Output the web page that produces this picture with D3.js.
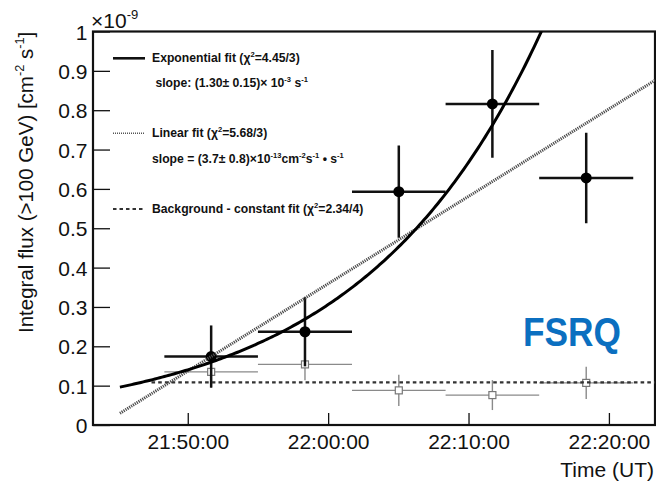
<!DOCTYPE html>
<html>
<head>
<meta charset="utf-8">
<script src="https://cdn.jsdelivr.net/npm/d3@7"></script>
<style>
  body { margin: 0; background: #fff; }
  svg { display: block; }
  text { font-family: "Liberation Sans", Arial, Helvetica, sans-serif; fill: #111; }
</style>
</head>
<body>
<script>
// ---- data: PKS 1222+216 light curve, 17 June 2010 (UT) ----
const obsDate = "2010-06-17T";
const binStart = ["21:48:20", "21:55:00", "22:01:42", "22:08:22", "22:15:02"];
const binEnd   = ["21:55:00", "22:01:42", "22:08:22", "22:15:02", "22:21:44"];
// integral flux above 100 GeV, in units of 1e-9 cm^-2 s^-1
const signalFlux = [0.174, 0.237, 0.593, 0.816, 0.628];
const signalErr  = [0.079, 0.088, 0.117, 0.137, 0.115];
const bgFlux     = [0.135, 0.154, 0.088, 0.076, 0.107];
const bgErr      = [0.041, 0.040, 0.040, 0.038, 0.041];

const xTickLabels = ["21:50:00", "22:00:00", "22:10:00", "22:20:00"];
const yTickLabels = ["0", "0.1", "0.2", "0.3", "0.4", "0.5", "0.6", "0.7", "0.8", "0.9", "1"];

// fit parameters
const fitStart = "21:45:10";
const expNorm = 0.0962, expRate = 1.30e-3;        // F(t) = N exp(rate * dt), rate in s^-1
const linOffset = 0.0297, linSlope = 3.7e-4;      // 1e-9 cm^-2 s^-1 per s
const bgFitStart = "21:47:25", bgLevel = 0.1085;  // constant background

const legendLines = [
  "Exponential fit (χ^{2}=4.45/3)",
  " slope: (1.30± 0.15)× 10^{-3} s^{-1}",
  "Linear fit (χ^{2}=5.68/3)",
  "slope = (3.7± 0.8)×10^{-13}cm^{-2}s^{-1} • s^{-1}",
  "Background - constant fit (χ^{2}=2.34/4)"
];

// ---- layout ----
const W = 656, H = 484;
const plot = { left: 93, right: 655, top: 31.5, bottom: 425 };
const T = s => new Date(obsDate + s + "Z");

const svg = d3.select("body").append("svg").attr("width", W).attr("height", H);

const x = d3.scaleUtc().domain([T("21:43:15"), T("22:23:17")]).range([plot.left, plot.right]);
const y = d3.scaleLinear().domain([0, 1]).range([plot.bottom, plot.top]);

svg.append("defs").append("clipPath").attr("id", "frame")
  .append("rect").attr("x", plot.left).attr("y", plot.top)
  .attr("width", plot.right - plot.left).attr("height", plot.bottom - plot.top);

// rich text with ^{...} superscripts
function rich(sel, str, size) {
  const re = /\^\{([^}]*)\}/g;
  let last = 0, m, up = false;
  const parts = [];
  while ((m = re.exec(str)) !== null) {
    if (m.index > last) parts.push([str.slice(last, m.index), false]);
    parts.push([m[1], true]);
    last = re.lastIndex;
  }
  if (last < str.length) parts.push([str.slice(last), false]);
  parts.forEach(([t, sup]) => {
    const ts = sel.append("tspan").text(t);
    if (sup) {
      ts.attr("font-size", size * 0.62).attr("dy", -size * 0.42);
      up = true;
    } else if (up) {
      ts.attr("dy", size * 0.42);
      up = false;
    }
  });
  sel.attr("xml:space", "preserve").style("white-space", "pre");
}

// ---- axes ----
const gx = svg.append("g").attr("transform", `translate(0,${plot.bottom})`);
gx.call(d3.axisBottom(x).ticks(d3.utcMinute.every(2)).tickSize(-6).tickFormat(""));
gx.call(d3.axisBottom(x).tickValues(xTickLabels.map(T)).tickSize(-12)
  .tickFormat((d, i) => xTickLabels[i]));
gx.selectAll(".domain").remove();
gx.selectAll("line").attr("stroke", "#111").attr("stroke-width", 1.3);
gx.selectAll("text").attr("y", 0).attr("dy", 24).attr("font-size", 21).attr("fill", "#111");

const gy = svg.append("g").attr("transform", `translate(${plot.left},0)`);
gy.call(d3.axisLeft(y).ticks(50).tickSize(-8).tickFormat(""));
gy.call(d3.axisLeft(y).tickValues(d3.range(11).map(i => i / 10)).tickSize(-17)
  .tickFormat((d, i) => yTickLabels[i]));
gy.selectAll(".domain").remove();
gy.selectAll("line").attr("stroke", "#111").attr("stroke-width", 1.3);
gy.selectAll("text").attr("x", -5.5).attr("dy", 7.5).attr("font-size", 21).attr("fill", "#111");

// frame
svg.append("rect").attr("x", plot.left).attr("y", plot.top)
  .attr("width", plot.right - plot.left).attr("height", plot.bottom - plot.top)
  .attr("fill", "none").attr("stroke", "#111").attr("stroke-width", 2.2);

// axis titles
const yt = svg.append("text").attr("transform", "translate(33,333) rotate(-90)")
  .attr("font-size", 20.5);
rich(yt, "Integral flux (>100 GeV) [cm^{-2} s^{-1}]", 20.5);
svg.append("text").attr("x", 654).attr("y", 477).attr("text-anchor", "end")
  .attr("font-size", 21).text("Time (UT)");
const ex = svg.append("text").attr("x", 91).attr("y", 28).attr("font-size", 21);
rich(ex, "×10^{-9}", 21);

// ---- data ----
const idx = d3.range(signalFlux.length);
const mid = i => new Date((T(binStart[i]).getTime() + T(binEnd[i]).getTime()) / 2);

const bgG = svg.append("g").attr("clip-path", "url(#frame)");
bgG.selectAll("line.bh").data(idx).join("line")
  .attr("x1", i => x(T(binStart[i]))).attr("x2", i => x(T(binEnd[i])))
  .attr("y1", i => y(bgFlux[i])).attr("y2", i => y(bgFlux[i]))
  .attr("stroke", "#8a8a8a").attr("stroke-width", 1.4);
bgG.selectAll("line.bv").data(idx).join("line")
  .attr("x1", i => x(mid(i))).attr("x2", i => x(mid(i)))
  .attr("y1", i => y(bgFlux[i] - bgErr[i])).attr("y2", i => y(bgFlux[i] + bgErr[i]))
  .attr("stroke", "#8a8a8a").attr("stroke-width", 1.4);
bgG.selectAll("rect").data(idx).join("rect")
  .attr("x", i => x(mid(i)) - 3.5).attr("y", i => y(bgFlux[i]) - 3.5)
  .attr("width", 7).attr("height", 7)
  .attr("fill", "#fff").attr("stroke", "#777").attr("stroke-width", 1.2);

// fits
const fitG = svg.append("g").attr("clip-path", "url(#frame)");
const t0 = T(fitStart);
const tEnd = x.domain()[1];
const samples = d3.utcSecond.every(10).range(t0, tEnd).concat([tEnd]);
const dt = d => (d - t0) / 1000;
const line = d3.line().x(d => x(d[0])).y(d => y(d[1]));

fitG.append("path")
  .attr("d", line([[T(bgFitStart), bgLevel], [tEnd, bgLevel]]))
  .attr("fill", "none").attr("stroke", "#333").attr("stroke-width", 2.2)
  .attr("stroke-dasharray", "3.6,3.1");

fitG.append("path")
  .attr("d", line(samples.map(d => [d, linOffset + linSlope * dt(d)])))
  .attr("fill", "none").attr("stroke", "#4a4a4a").attr("stroke-width", 3)
  .attr("stroke-dasharray", "1.2,1");

// signal points
const sigG = svg.append("g").attr("clip-path", "url(#frame)");
sigG.selectAll("line.sh").data(idx).join("line")
  .attr("x1", i => x(T(binStart[i]))).attr("x2", i => x(T(binEnd[i])))
  .attr("y1", i => y(signalFlux[i])).attr("y2", i => y(signalFlux[i]))
  .attr("stroke", "#111").attr("stroke-width", 2.5);
sigG.selectAll("line.sv").data(idx).join("line")
  .attr("x1", i => x(mid(i))).attr("x2", i => x(mid(i)))
  .attr("y1", i => y(signalFlux[i] - signalErr[i])).attr("y2", i => y(signalFlux[i] + signalErr[i]))
  .attr("stroke", "#111").attr("stroke-width", 2.5);
sigG.selectAll("circle").data(idx).join("circle")
  .attr("cx", i => x(mid(i))).attr("cy", i => y(signalFlux[i])).attr("r", 5.5)
  .attr("fill", "#000");

fitG.append("path")
  .attr("d", line(samples.map(d => [d, expNorm * Math.exp(expRate * dt(d))]).filter(p => p[1] < 1.1)))
  .attr("fill", "none").attr("stroke", "#000").attr("stroke-width", 3);
fitG.raise();

// ---- legend ----
const lg = svg.append("g");
const legendY = [62, 87, 137, 163, 213];
const legendSampleY = [58.3, null, 133.3, null, 209];
const sampleStyle = [
  { w: 2.6, dash: null, c: "#111" }, null,
  { w: 1.4, dash: "1,1", c: "#555" }, null,
  { w: 2, dash: "3.5,3", c: "#333" }
];
legendLines.forEach((s, i) => {
  const t = lg.append("text").attr("x", 152).attr("y", legendY[i])
    .attr("font-size", 12.2).attr("font-weight", "bold").attr("fill", "#1a1a1a");
  rich(t, s, 12.2);
  if (legendSampleY[i] !== null) {
    const st = sampleStyle[i];
    lg.append("line").attr("x1", 113).attr("x2", 145)
      .attr("y1", legendSampleY[i]).attr("y2", legendSampleY[i])
      .attr("stroke", st.c).attr("stroke-width", st.w)
      .attr("stroke-dasharray", st.dash);
  }
});

// label
svg.append("text").attr("x", 523).attr("y", 346)
  .attr("font-family", "Lato, 'Open Sans', sans-serif").attr("font-weight", "bold")
  .attr("font-size", 41).attr("textLength", 98).attr("lengthAdjust", "spacingAndGlyphs")
  .style("fill", "#0b6fc0").text("FSRQ");
</script>
</body>
</html>
